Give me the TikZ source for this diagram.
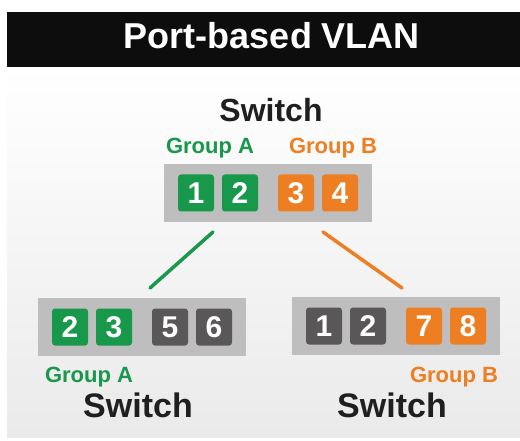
\documentclass[tikz,border=0pt]{standalone}
\usepackage{fontspec}
\setmainfont{Liberation Sans}
\usetikzlibrary{positioning,calc}
\definecolor{vgreen}{HTML}{17984A}
\definecolor{vorange}{HTML}{EE7E22}
\definecolor{vdark}{HTML}{595757}
\definecolor{vbox}{HTML}{BEBEBE}
\definecolor{vpanel}{HTML}{EAEAEA}
\tikzset{
  swbox/.style = {fill=vbox, minimum width=208pt, minimum height=58pt, inner sep=0pt},
  port/.style  = {rounded corners=3pt, minimum width=36pt, minimum height=37pt,
                  inner sep=0pt, text=white, font=\fontsize{30}{30}\selectfont\bfseries},
  grp/.style   = {anchor=base, font=\fontsize{22}{22}\selectfont\bfseries},
  swlab/.style = {anchor=base, text=black!88},
  link/.style  = {line width=3.5pt, line cap=round},
}

\begin{document}
\begin{tikzpicture}[x=1pt,y=-1pt]
\useasboundingbox (0,0) rectangle (520,441);
\shade[top color=white,bottom color=vpanel] (7,67) rectangle (520,437);
\fill[black!95] (7,12) rectangle (520,67);
\node[anchor=base,text=white,font=\fontsize{36}{36}\selectfont\bfseries] (title) at (272,49) {Port-based VLAN};
% top switch
\node[swlab,font=\fontsize{32}{32}\selectfont\bfseries] (toplab) at (271,122) {Switch};
\node[grp,text=vgreen] (topga) at (210,154) {Group A};
\node[grp,text=vorange] (topgb) at (333,154) {Group B};
\node[swbox] (top) at (268,193) {};
\foreach \dx/\num/\col [count=\i] in {-72/1/vgreen, -28/2/vgreen, 28/3/vorange, 72/4/vorange}
  \node[port,fill=\col] (t\i) at ($(top)+(\dx,0)$) {\num};
% lower switches
\node[swbox] (left) at (142,327) {};
\foreach \dx/\num/\col [count=\i] in {-72/2/vgreen, -28/3/vgreen, 28/5/vdark, 72/6/vdark}
  \node[port,fill=\col] (l\i) at ($(left)+(\dx,0)$) {\num};
\node[swbox] (right) at (396,326) {};
\foreach \dx/\num/\col [count=\i] in {-72/1/vdark, -28/2/vdark, 28/7/vorange, 72/8/vorange}
  \node[port,fill=\col] (r\i) at ($(right)+(\dx,0)$) {\num};
\node[grp,text=vgreen] (leftga) at (89,382) {Group A};
\node[grp,text=vorange] (rightgb) at (454,382) {Group B};
\node[swlab,font=\fontsize{34}{34}\selectfont\bfseries] (leftlab) at (138,417) {Switch};
\node[swlab,font=\fontsize{34}{34}\selectfont\bfseries] (rightlab) at (392,417) {Switch};
% links
\coordinate (ga) at (213,232);
\coordinate (gb) at (150,288);
\coordinate (oa) at (323,232);
\coordinate (ob) at (402,288);
\draw[link,vgreen] (ga) -- (gb);
\draw[link,vorange] (oa) -- (ob);
\end{tikzpicture}
\end{document}
